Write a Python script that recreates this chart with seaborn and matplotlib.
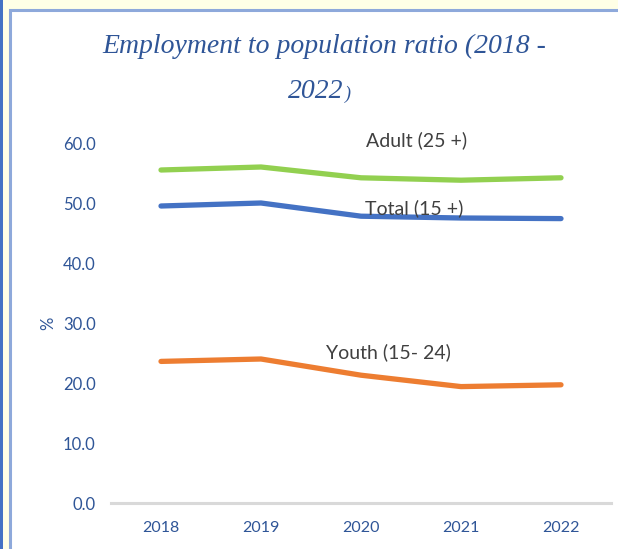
import matplotlib
matplotlib.use("Agg")
import matplotlib.pyplot as plt
from matplotlib.patches import Rectangle
import pandas as pd
import seaborn as sns

years = ["2018", "2019", "2020", "2021", "2022"]
adult = [55.5, 56.0, 54.2, 53.8, 54.2]
total = [49.5, 50.0, 47.8, 47.5, 47.4]
youth = [23.6, 24.0, 21.3, 19.4, 19.7]
series_names = ["Adult (25 +)", "Total (15 +)", "Youth (15- 24)"]
y_ticks = [0, 10, 20, 30, 40, 50, 60]

df = pd.DataFrame({
    "year": years * 3,
    "value": adult + total + youth,
    "group": [series_names[0]] * 5 + [series_names[1]] * 5 + [series_names[2]] * 5,
})

sns.set_theme(style="white")
plt.rcParams["font.family"] = ["Lato", "DejaVu Sans"]

W, H = 618, 549
fig = plt.figure(figsize=(W / 100, H / 100), dpi=100)
fig.patch.set_facecolor("#FFFFE6")

# outer frame: dark blue edge on the left, white panel with light blue border
fig.patches.append(Rectangle((0, 0), 3 / W, 1, transform=fig.transFigure,
                             facecolor="#4472C4", edgecolor="none", zorder=-10))
fig.patches.append(Rectangle((10 / W, -0.05), 1.0, 1 - 10 / H + 0.05,
                             transform=fig.transFigure, facecolor="white",
                             edgecolor="#8EA9DB", linewidth=2.2, zorder=-10))

ax = fig.add_axes([111 / W, 1 - 503 / H, 500 / W, 360 / H])
ax.set_facecolor("none")
ax.set_zorder(1)

palette = {series_names[0]: "#92D050", series_names[1]: "#4472C4",
           series_names[2]: "#ED7D31"}
sns.lineplot(data=df, x="year", y="value", hue="group", palette=palette,
             linewidth=3.8, ax=ax, legend=False, sort=False)
for ln in ax.lines:
    ln.set_solid_capstyle("round")

ax.set_xlim(-0.5, 4.5)
ax.set_ylim(0, 60)
ax.set_yticks(y_ticks)
ax.set_yticklabels([f"{v:.1f}" for v in y_ticks])
ax.tick_params(axis="y", length=0, pad=11, labelsize=12, labelcolor="#2F5597")
ax.tick_params(axis="x", length=0, pad=13, labelsize=11.5, labelcolor="#2F5597")
for s in ["top", "right", "left"]:
    ax.spines[s].set_visible(False)
ax.spines["bottom"].set_color("#D9D9D9")
ax.spines["bottom"].set_linewidth(2.2)
ax.set_xlabel("")
ax.set_ylabel("%", fontsize=12, color="#2F5597", labelpad=5)

label_kw = dict(fontsize=14, color="#404040", ha="center", va="center")
ax.text(2.555, 60.5, series_names[0], **label_kw)
ax.text(2.53, 49.2, series_names[1], **label_kw)
ax.text(2.27, 25.2, series_names[2], **label_kw)

title_kw = dict(family="Liberation Serif", style="italic", color="#2F5597",
                ha="center", va="center")
fig.text(324 / W, 1 - 46 / H, "Employment to population ratio (2018 -",
         fontsize=20, **title_kw)
fig.text(316 / W, 1 - 91 / H, "2022", fontsize=20, **title_kw)
fig.text(348 / W, 1 - 94 / H, ")", fontsize=13, **title_kw)

fig.savefig("out.png", dpi=100, facecolor=fig.get_facecolor())
